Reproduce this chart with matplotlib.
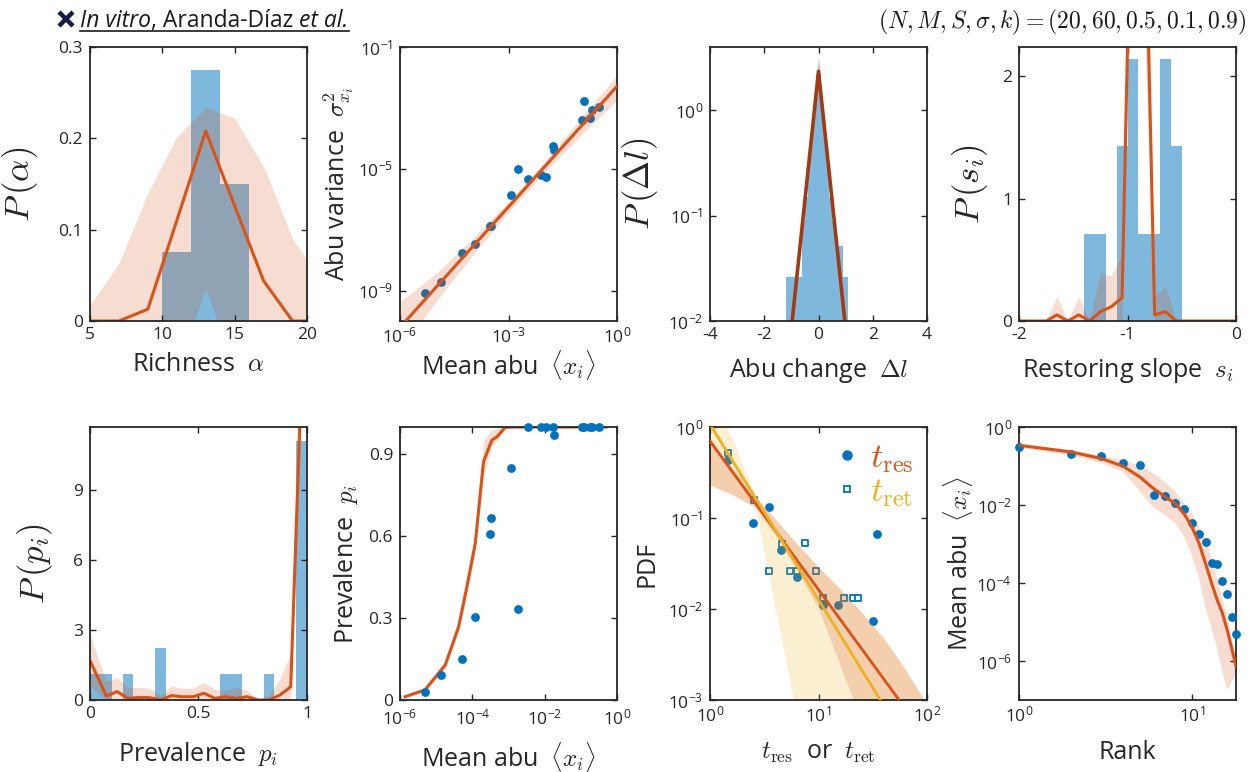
import numpy as np
import matplotlib
matplotlib.use('Agg')
import matplotlib.pyplot as plt
from matplotlib.ticker import FuncFormatter, NullLocator
from matplotlib.lines import Line2D

BLUE = '#0072BD'
RED = '#D95319'
YELLOW = '#EDB120'
DARK = '#262626'

# --- species data (in vitro) ---
mean_abu = [5.0e-6, 1.38e-5, 5.1e-5, 1.15e-4, 3.09e-4, 3.24e-4, 1.15e-3, 1.78e-3, 3.39e-3,
            8.1e-3, 1.1e-2, 1.7e-2, 1.78e-2, 0.105, 0.12, 0.178, 0.209, 0.316]
abu_var = [8.5e-10, 1.95e-9, 1.66e-8, 3.39e-8, 1.29e-7, 1.29e-7, 1.41e-6, 1.02e-5, 4.47e-6,
           6.46e-6, 5.37e-6, 5.75e-5, 4.07e-5, 3.89e-4, 1.70e-3, 4.79e-4, 8.71e-4, 1.07e-3]
prevalence = [0.028, 0.09, 0.151, 0.303, 0.607, 0.667, 0.849, 0.333, 1.0,
              1.0, 1.0, 1.0, 0.97, 1.0, 1.0, 1.0, 1.0, 1.0]

# richness
rich_edges = [10, 12, 14, 16]
rich_density = [0.075, 0.275, 0.15]
rich_x = [5, 7, 9, 11, 13, 15, 17, 19, 21]
rich_mean = [0, 0, 0.013, 0.11, 0.208, 0.126, 0.044, 0, 0]
rich_hi = [0.0175, 0.063, 0.14, 0.2016, 0.234, 0.222, 0.169, 0.09, 0.044]
rich_lo = [0, 0, 0, -0.0525, 0.035, -0.0525, 0, 0, 0]

# variance vs mean fit (log10 values)
var_fit_x = [1e-6, 1.0]
var_fit_y = [6.2e-11, 5.1e-3]
var_band_xlog = [-6, -5, -4, -3, -2, -1, 0]
var_band_hi = [-9.37, -8.44, -7.3, -6.08, -4.75, -3.35, -1.93]
var_band_lo = [-11.0, -9.35, -7.85, -6.42, -5.12, -3.9, -2.75]

# abundance change histogram
dl_edges = [-1.2, -1.1, -1.0, -0.9, -0.8, -0.7, -0.6, -0.5, -0.4, -0.3, -0.2, -0.1, 0.0,
            0.1, 0.2, 0.3, 0.4, 0.5, 0.6, 0.7, 0.8, 0.9, 1.0, 1.1]
dl_density = [0.026, 0.026, 0.026, 0.026, 0.026, 0.026, 0.09, 0.15, 0.28, 0.5, 0.9, 2.2,
              2.2, 0.9, 0.5, 0.28, 0.15, 0.09, 0.052, 0.052, 0.052, 0.026, 0.026]
dl_x = [-0.97, 0.0, 0.97]
dl_model = [0.01, 2.35, 0.01]
dl_gray_x = [-0.12, -0.04, 0.0, 0.04, 0.12]
dl_gray_lo = [0.9, 1.6, 2.0, 1.6, 0.9]
dl_gray_hi = [1.3, 2.5, 3.3, 2.5, 1.3]

# restoring slope
slope_edges = [-1.4, -1.3, -1.2, -1.1, -1.0, -0.9, -0.8, -0.7, -0.6, -0.5]
slope_density = [0.714, 0.714, 0, 1.43, 2.14, 0.714, 0.714, 2.14, 1.43]
slope_x = [-2.05, -1.95, -1.85, -1.75, -1.65, -1.55, -1.45, -1.35, -1.25, -1.15, -1.05,
           -0.95, -0.85, -0.75, -0.65, -0.55, -0.45, -0.35, -0.25, -0.15, -0.05, 0.05]
slope_model = [0, 0, 0, 0, 0.05, 0, 0.05, 0, 0.076, 0.117, 0.19,
               4.3, 4.0, 0.05, 0.076, 0, 0, 0, 0, 0, 0, 0]
slope_hi = [0, 0, 0, 0, 0.2, 0, 0.2, 0, 0.4, 0.37, 0.55,
            5.0, 4.8, 0.2, 0.29, 0, 0, 0, 0, 0, 0, 0]
slope_lo = [0, 0, 0, 0, 0, 0, 0, 0, 0, 0, 0,
            3.5, 2.6, 0, 0, 0, 0, 0, 0, 0, 0, 0]

# prevalence distribution model
prev_x = [0.0, 0.075, 0.125, 0.175, 0.225, 0.275, 0.325, 0.375, 0.425, 0.475,
          0.525, 0.575, 0.625, 0.675, 0.725, 0.775, 0.825, 0.875, 0.925, 0.975]
prev_model = [1.69, 0.17, 0.36, 0.07, 0.11, 0.1, 0.0, 0.19, 0.14, 0.14,
              0.29, 0.07, 0.14, 0.07, 0.14, 0.0, 0.0, 0.21, 0.57, 14.0]
prev_hi = [2.8, 0.8, 0.95, 0.55, 0.55, 0.5, 0.2, 0.6, 0.5, 0.5,
           0.75, 0.45, 0.4, 0.55, 0.4, 0.05, 0.2, 0.9, 2.0, 16.0]
prev_lo = [0.6, 0, 0.05, 0, 0, 0, 0, 0, 0, 0,
           0, 0, 0, 0, 0, 0, 0, 0, 0, 12.0]

# prevalence vs mean abundance model
pm_xlog = [-5.86, -5.31, -4.75, -4.38, -4.15, -3.92, -3.69, -3.46, -3.32, -3.09,
           -2.8, -2.5, -2.0, -1.5, -1.0, -0.5, -0.3]
pm_model = [0.012, 0.037, 0.128, 0.268, 0.415, 0.573, 0.873, 0.952, 0.964, 0.999,
            1, 1, 1, 1, 1, 1, 1]
pm_hi = [0.015, 0.045, 0.14, 0.29, 0.45, 0.61, 0.95, 0.99, 0.995, 1, 1, 1, 1, 1, 1, 1, 1]
pm_lo = [0.01, 0.03, 0.115, 0.25, 0.39, 0.54, 0.82, 0.93, 0.95, 0.995, 1, 1, 1, 1, 1, 1, 1]

# residence / return times
t_res = [1.48, 2.5, 3.5, 4.5, 6.4, 10.9, 15.1, 31.9, 34.8]
pdf_res = [0.437, 0.0883, 0.132, 0.0443, 0.0225, 0.0112, 0.0112, 0.0074, 0.0664]
t_ret = [1.48, 2.53, 3.49, 4.58, 5.43, 6.4, 7.43, 9.48, 10.9, 17.0, 20.8, 23.2]
pdf_ret = [0.524, 0.157, 0.0263, 0.0515, 0.0263, 0.0263, 0.0525, 0.0263,
           0.0133, 0.0133, 0.0133, 0.0133]
fit_t = [1.0, 100.0]
fit_res = [0.70, 3.8e-4]
fit_ret = [1.07, 1.48e-4]
band_tlog = [0, 0.2, 0.42, 0.6, 0.8, 1.0, 1.2, 1.4, 1.6, 1.8, 2.0]
res_lo = [-0.64, -0.74, -0.885, -1.19, -1.57, -2.0, -2.62, -3.25, -4.0, -4.7, -5.4]
res_hi = [-0.13, -0.44, -0.76, -1.01, -1.28, -1.54, -1.78, -2.04, -2.32, -2.66, -3.05]
ret_lo = [-0.64, -0.74, -0.885, -1.96, -3.15, -4.34, -5.5, -6.7, -7.9, -9.1, -10.3]
ret_hi = [0.3, -0.1, -0.76, -1.01, -1.28, -1.54, -1.78, -2.04, -2.32, -2.66, -3.05]

# rank abundance model (log10)
rank_model = [-0.469, -0.64, -0.81, -1.006, -1.28, -1.58, -1.79, -1.96, -2.22, -2.56,
              -2.98, -3.50, -4.0, -4.43, -4.77, -5.2, -5.67, -6.14]
rank_hi = [-0.42, -0.58, -0.72, -0.85, -0.98, -1.19, -1.41, -1.66, -1.96, -2.22,
           -2.56, -2.90, -3.41, -3.92, -4.43, -4.86, -5.46, -6.0]
rank_lo = [-0.52, -0.72, -0.92, -1.15, -1.66, -2.05, -2.26, -2.47, -2.81, -3.32,
           -3.92, -4.69, -5.2, -5.71, -6.31, -6.73, -6.5, -6.3]

plt.rcParams['font.family'] = ['Open Sans', 'DejaVu Sans']
plt.rcParams['mathtext.fontset'] = 'cm'
plt.rcParams['axes.unicode_minus'] = False
plt.rcParams['axes.linewidth'] = 1.3
plt.rcParams['axes.edgecolor'] = DARK
plt.rcParams['xtick.top'] = True
plt.rcParams['ytick.right'] = True
for a in 'xy':
    plt.rcParams[a + 'tick.direction'] = 'in'
    plt.rcParams[a + 'tick.major.size'] = 4.5
    plt.rcParams[a + 'tick.major.width'] = 1.0
    plt.rcParams[a + 'tick.labelsize'] = 12.5
    plt.rcParams[a + 'tick.color'] = DARK
    plt.rcParams[a + 'tick.labelcolor'] = DARK
plt.rcParams['xtick.major.pad'] = 4
plt.rcParams['ytick.major.pad'] = 5


def pow10(v, pos):
    return r'$\mathregular{10^{%d}}$' % int(round(np.log10(v)))


def logaxis(ax, which, ticks):
    axis = ax.xaxis if which == 'x' else ax.yaxis
    if which == 'x':
        ax.set_xscale('log')
    else:
        ax.set_yscale('log')
    axis.set_ticks(ticks)
    axis.set_major_formatter(FuncFormatter(pow10))
    axis.set_minor_locator(NullLocator())


def labels(ax, xl, yl, xy, yx, ysize=25):
    ax.set_xlabel(xl, fontsize=18, color=DARK)
    ax.xaxis.set_label_coords(0.5, xy)
    ax.set_ylabel(yl, fontsize=ysize, color=DARK)
    ax.yaxis.set_label_coords(yx, 0.5)


W, H = 1256, 772
fig = plt.figure(figsize=(W / 100, H / 100), dpi=100)
lefts = [90, 400, 710, 1019]


def box(i, top, bottom):
    return [lefts[i] / W, 1 - bottom / H, 217 / W, (bottom - top) / H]


# 1 richness
ax = fig.add_axes(box(0, 47, 321))
ax.stairs(rich_density, rich_edges, fill=True, color=BLUE, alpha=0.5, lw=0)
ax.fill_between(rich_x, rich_lo, rich_hi, color=RED, alpha=0.2, lw=0)
ax.plot(rich_x, rich_mean, color=RED, lw=2.2)
ax.set_xlim(5, 20)
ax.set_ylim(0, 0.3)
ax.set_xticks([5, 10, 15, 20])
ax.set_yticks([0, 0.1, 0.2, 0.3])
ax.set_yticklabels(['0', '0.1', '0.2', '0.3'])
labels(ax, r'Richness  $\alpha$', r'$P\,(\alpha)$', -0.113, -0.23)

# 2 variance vs mean
ax = fig.add_axes(box(1, 47, 321))
ax.scatter(mean_abu, abu_var, s=40, color=BLUE, lw=0, zorder=1)
ax.fill_between(10.0 ** np.array(var_band_xlog), 10.0 ** np.array(var_band_lo),
                10.0 ** np.array(var_band_hi), color=RED, alpha=0.2, lw=0, zorder=2)
ax.plot(var_fit_x, var_fit_y, color=RED, lw=2.2, zorder=3)
logaxis(ax, 'x', [1e-6, 1e-3, 1])
logaxis(ax, 'y', [1e-9, 1e-5, 1e-1])
ax.set_xlim(1e-6, 1)
ax.set_ylim(1e-10, 1e-1)
labels(ax, r'Mean abu  $\langle x_i \rangle$', r'Abu variance  $\sigma^2_{x_i}$', -0.097, -0.198, ysize=18)

# 3 abundance change
ax = fig.add_axes(box(2, 47, 321))
ax.stairs(dl_density, dl_edges, fill=True, color=BLUE, alpha=0.5, lw=0, baseline=1e-4)
ax.plot(dl_x, dl_model, color='#A13A12', lw=2.6)
ax.fill_between(dl_gray_x, dl_gray_lo, dl_gray_hi, color='gray', alpha=0.5, lw=0)
logaxis(ax, 'y', [1e-2, 1e-1, 1])
ax.set_xlim(-4, 4)
ax.set_ylim(1e-2, 4)
ax.set_xticks([-4, -2, 0, 2, 4])
labels(ax, r'Abu change  $\Delta l$', r'$P\,(\Delta l)$', -0.128, -0.23)

# 4 restoring slope
ax = fig.add_axes(box(3, 47, 321))
ax.stairs(slope_density, slope_edges, fill=True, color=BLUE, alpha=0.5, lw=0)
ax.fill_between(slope_x, slope_lo, slope_hi, color=RED, alpha=0.2, lw=0)
ax.plot(slope_x, slope_model, color=RED, lw=2.2)
ax.set_xlim(-2, 0)
ax.set_ylim(0, 2.24)
ax.set_xticks([-2, -1, 0])
ax.set_yticks([0, 1, 2])
labels(ax, r'Restoring slope  $s_i$', r'$P\,(s_i)$', -0.128, -0.134)

# 5 prevalence distribution
ax = fig.add_axes(box(0, 427, 700))
ax.hist(prevalence, bins=np.linspace(0, 1, 21), density=True, histtype='stepfilled',
        color=BLUE, alpha=0.5, lw=0)
ax.fill_between(prev_x, prev_lo, prev_hi, color=RED, alpha=0.2, lw=0)
ax.plot(prev_x, prev_model, color=RED, lw=2.2)
ax.set_xlim(0, 1)
ax.set_ylim(0, 11.7)
ax.set_xticks([0, 0.5, 1])
ax.set_xticklabels(['0', '0.5', '1'])
ax.set_yticks([0, 3, 6, 9])
labels(ax, r'Prevalence  $p_i$', r'$P\,(p_i)$', -0.145, -0.16)

# 6 prevalence vs mean abundance
ax = fig.add_axes(box(1, 427, 700))
pm_x = 10.0 ** np.array(pm_xlog)
ax.fill_between(pm_x, pm_lo, pm_hi, color=RED, alpha=0.2, lw=0)
ax.plot(pm_x, pm_model, color=RED, lw=2.2)
ax.scatter(mean_abu, prevalence, s=40, color=BLUE, lw=0, zorder=4, clip_on=False)
logaxis(ax, 'x', [1e-6, 1e-4, 1e-2, 1])
ax.tick_params(axis='x', pad=6)
ax.set_xlim(1e-6, 1)
ax.set_ylim(0, 1.0)
ax.set_yticks([0, 0.3, 0.6, 0.9])
ax.set_yticklabels(['0', '0.3', '0.6', '0.9'])
labels(ax, r'Mean abu  $\langle x_i \rangle$', r'Prevalence  $p_i$', -0.145, -0.184, ysize=18)

# 7 residence / return times
ax = fig.add_axes(box(2, 427, 700))
ax.scatter(t_res, pdf_res, s=40, color=BLUE, lw=0, zorder=1)
ax.scatter(t_ret, pdf_ret, s=22, marker='s', facecolor='white', edgecolor=BLUE, lw=1.3, zorder=1)
bt = 10.0 ** np.array(band_tlog)
ax.fill_between(bt, 10.0 ** np.array(ret_lo), 10.0 ** np.array(ret_hi), color=YELLOW, alpha=0.2, lw=0, zorder=2)
ax.fill_between(bt, 10.0 ** np.array(res_lo), 10.0 ** np.array(res_hi), color=RED, alpha=0.2, lw=0, zorder=2)
ax.plot(fit_t, fit_res, color=RED, lw=2.0, zorder=3)
ax.plot(fit_t, fit_ret, color=YELLOW, lw=2.0, zorder=3)
logaxis(ax, 'x', [1, 10, 100])
logaxis(ax, 'y', [1e-3, 1e-2, 1e-1, 1])
ax.set_xlim(1, 100)
ax.set_ylim(1e-3, 1)
handles = [Line2D([], [], ls='none', marker='o', color=BLUE, ms=6.5),
           Line2D([], [], ls='none', marker='s', mfc='white', mec=BLUE, mew=1.3, ms=4.8)]
leg = ax.legend(handles, [r'$t_{\rm res}$', r'$t_{\rm ret}$'], loc='upper right', frameon=False,
                fontsize=25, handletextpad=0.15, labelspacing=0.0, borderaxespad=0.0,
                handlelength=1.0)
for txt, c in zip(leg.get_texts(), [RED, YELLOW]):
    txt.set_color(c)
labels(ax, r'$t_{\rm res}$  or  $t_{\rm ret}$', 'PDF', -0.145, -0.233, ysize=18)

# 8 rank abundance
ax = fig.add_axes(box(3, 427, 700))
ranks = np.arange(1, len(mean_abu) + 1)
ax.fill_between(ranks, 10.0 ** np.array(rank_lo), 10.0 ** np.array(rank_hi), color=RED, alpha=0.2, lw=0)
ax.scatter(ranks, np.sort(mean_abu)[::-1], s=40, color=BLUE, lw=0, zorder=3, clip_on=False)
ax.plot(ranks, 10.0 ** np.array(rank_model), color=RED, lw=2.2, zorder=4)
logaxis(ax, 'x', [1, 10])
logaxis(ax, 'y', [1e-6, 1e-4, 1e-2, 1])
ax.set_xlim(1, 18)
ax.set_ylim(1e-7, 1)
labels(ax, 'Rank', r'Mean abu  $\langle x_i \rangle$', -0.145, -0.203, ysize=18)

# header texts
fig.add_artist(Line2D([66 / W], [1 - 19 / H], marker='x', ms=10, mew=3.2, color='#161a4a'))
fig.canvas.draw()
rend = fig.canvas.get_renderer()
x0 = 80 / W
xpos = x0
ybase = 1 - 27 / H
for piece, st in [('In vitro', 'italic'), (', Aranda-Díaz ', 'normal'), ('et al.', 'italic')]:
    t = fig.text(xpos, ybase, piece, fontsize=16.5, style=st, va='baseline', color='#1a1a1a')
    bb = t.get_window_extent(rend)
    xpos = bb.x1 / W
fig.add_artist(Line2D([x0, xpos], [1 - 31 / H, 1 - 31 / H], color='#1a1a1a', lw=1.2))
fig.text(1246 / W, 1 - 22 / H, r'$(N,M,S,\sigma,k) = (20,60,0.5,0.1,0.9)$',
         ha='right', va='center', fontsize=17, color='#1a1a1a')

fig.savefig('out.png', dpi=100)
